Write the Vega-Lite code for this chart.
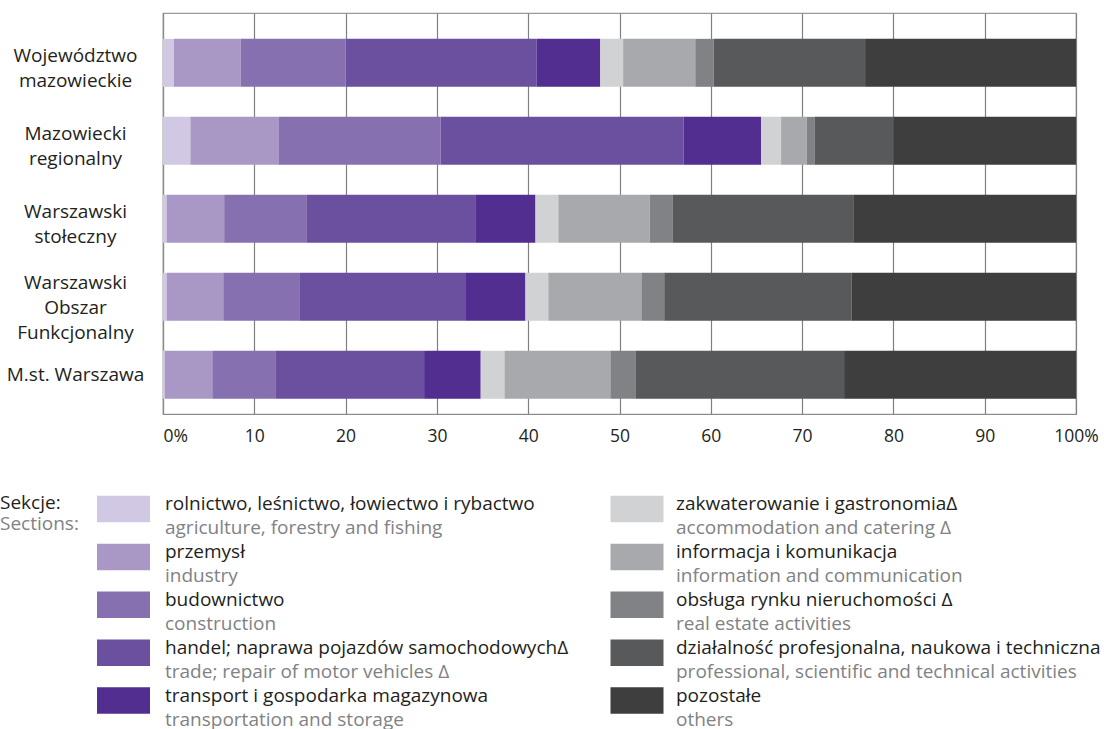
{
  "$schema": "https://vega.github.io/schema/vega-lite/v6.json",
  "padding": {"left": 0, "top": 12, "right": 0, "bottom": 0},
  "background": "white",
  "config": {"font": "Open Sans", "view": {"stroke": null}, "concat": {"spacing": 48}},
  "datasets": {
    "sekcje": [
      {"nr": 1, "pl": "rolnictwo, leśnictwo, łowiectwo i rybactwo", "en": "agriculture, forestry and fishing"},
      {"nr": 2, "pl": "przemysł", "en": "industry"},
      {"nr": 3, "pl": "budownictwo", "en": "construction"},
      {"nr": 4, "pl": "handel; naprawa pojazdów samochodowychΔ", "en": "trade; repair of motor vehicles Δ"},
      {"nr": 5, "pl": "transport i gospodarka magazynowa", "en": "transportation and storage"},
      {"nr": 6, "pl": "zakwaterowanie i gastronomiaΔ", "en": "accommodation and catering Δ"},
      {"nr": 7, "pl": "informacja i komunikacja", "en": "information and communication"},
      {"nr": 8, "pl": "obsługa rynku nieruchomości Δ", "en": "real estate activities"},
      {"nr": 9, "pl": "działalność profesjonalna, naukowa i techniczna", "en": "professional, scientific and technical activities"},
      {"nr": 10, "pl": "pozostałe", "en": "others"}
    ],
    "udzialy": [
      {"region": "Województwo mazowieckie", "nr": 1, "share": 1.2},
      {"region": "Województwo mazowieckie", "nr": 2, "share": 7.3},
      {"region": "Województwo mazowieckie", "nr": 3, "share": 11.5},
      {"region": "Województwo mazowieckie", "nr": 4, "share": 20.9},
      {"region": "Województwo mazowieckie", "nr": 5, "share": 7.0},
      {"region": "Województwo mazowieckie", "nr": 6, "share": 2.5},
      {"region": "Województwo mazowieckie", "nr": 7, "share": 7.9},
      {"region": "Województwo mazowieckie", "nr": 8, "share": 2.0},
      {"region": "Województwo mazowieckie", "nr": 9, "share": 16.6},
      {"region": "Województwo mazowieckie", "nr": 10, "share": 23.1},
      {"region": "Mazowiecki regionalny", "nr": 1, "share": 3.0},
      {"region": "Mazowiecki regionalny", "nr": 2, "share": 9.7},
      {"region": "Mazowiecki regionalny", "nr": 3, "share": 17.7},
      {"region": "Mazowiecki regionalny", "nr": 4, "share": 26.6},
      {"region": "Mazowiecki regionalny", "nr": 5, "share": 8.5},
      {"region": "Mazowiecki regionalny", "nr": 6, "share": 2.2},
      {"region": "Mazowiecki regionalny", "nr": 7, "share": 2.8},
      {"region": "Mazowiecki regionalny", "nr": 8, "share": 0.9},
      {"region": "Mazowiecki regionalny", "nr": 9, "share": 8.6},
      {"region": "Mazowiecki regionalny", "nr": 10, "share": 20.0},
      {"region": "Warszawski stołeczny", "nr": 1, "share": 0.4},
      {"region": "Warszawski stołeczny", "nr": 2, "share": 6.3},
      {"region": "Warszawski stołeczny", "nr": 3, "share": 9.0},
      {"region": "Warszawski stołeczny", "nr": 4, "share": 18.5},
      {"region": "Warszawski stołeczny", "nr": 5, "share": 6.6},
      {"region": "Warszawski stołeczny", "nr": 6, "share": 2.5},
      {"region": "Warszawski stołeczny", "nr": 7, "share": 10.0},
      {"region": "Warszawski stołeczny", "nr": 8, "share": 2.5},
      {"region": "Warszawski stołeczny", "nr": 9, "share": 19.8},
      {"region": "Warszawski stołeczny", "nr": 10, "share": 24.4},
      {"region": "Warszawski Obszar Funkcjonalny", "nr": 1, "share": 0.4},
      {"region": "Warszawski Obszar Funkcjonalny", "nr": 2, "share": 6.2},
      {"region": "Warszawski Obszar Funkcjonalny", "nr": 3, "share": 8.4},
      {"region": "Warszawski Obszar Funkcjonalny", "nr": 4, "share": 18.1},
      {"region": "Warszawski Obszar Funkcjonalny", "nr": 5, "share": 6.6},
      {"region": "Warszawski Obszar Funkcjonalny", "nr": 6, "share": 2.5},
      {"region": "Warszawski Obszar Funkcjonalny", "nr": 7, "share": 10.2},
      {"region": "Warszawski Obszar Funkcjonalny", "nr": 8, "share": 2.5},
      {"region": "Warszawski Obszar Funkcjonalny", "nr": 9, "share": 20.5},
      {"region": "Warszawski Obszar Funkcjonalny", "nr": 10, "share": 24.6},
      {"region": "M.st. Warszawa", "nr": 1, "share": 0.2},
      {"region": "M.st. Warszawa", "nr": 2, "share": 5.2},
      {"region": "M.st. Warszawa", "nr": 3, "share": 6.9},
      {"region": "M.st. Warszawa", "nr": 4, "share": 16.3},
      {"region": "M.st. Warszawa", "nr": 5, "share": 6.2},
      {"region": "M.st. Warszawa", "nr": 6, "share": 2.6},
      {"region": "M.st. Warszawa", "nr": 7, "share": 11.6},
      {"region": "M.st. Warszawa", "nr": 8, "share": 2.8},
      {"region": "M.st. Warszawa", "nr": 9, "share": 22.8},
      {"region": "M.st. Warszawa", "nr": 10, "share": 25.4}
    ],
    "naglowek": [{"pl": "Sekcje:", "en": "Sections:"}]
  },
  "vconcat": [
    {
      "width": 913,
      "height": 401,
      "view": {"stroke": "#9a9a9a", "strokeWidth": 1.2},
      "data": {"name": "udzialy"},
      "mark": {"type": "bar"},
      "encoding": {
        "y": {
          "field": "region",
          "type": "nominal",
          "sort": ["Województwo mazowieckie", "Mazowiecki regionalny", "Warszawski stołeczny", "Warszawski Obszar Funkcjonalny", "M.st. Warszawa"],
          "scale": {"paddingInner": 0.385, "paddingOuter": 0.263, "align": 0.63},
          "axis": {
            "title": null,
            "domainColor": "#8a8a8a",
            "domainWidth": 1.2,
            "ticks": false,
            "labelAlign": "center",
            "labelBaseline": "middle",
            "labelPadding": 88,
            "labelFontSize": 19,
            "labelColor": "#231f20",
            "labelLineHeight": 25,
            "labelLimit": 300,
            "labelExpr": "datum.value == 'M.st. Warszawa' ? datum.value : split(datum.value, ' ')",
            "labelOffset": {
              "condition": [
                {"test": "datum.value == 'M.st. Warszawa'", "value": 0},
                {"test": "datum.value == 'Warszawski Obszar Funkcjonalny'", "value": -14}
              ],
              "value": -7
            }
          }
        },
        "x": {
          "field": "share",
          "type": "quantitative",
          "stack": "zero",
          "scale": {"domain": [0, 100], "nice": false},
          "axis": {
            "title": null,
            "values": [0, 10, 20, 30, 40, 50, 60, 70, 80, 90, 100],
            "grid": true,
            "gridColor": "#808080",
            "gridWidth": 1.2,
            "ticks": false,
            "domainColor": "#8a8a8a",
            "domainWidth": 1.2,
            "labelFontSize": 17.5,
            "labelColor": "#231f20",
            "labelPadding": 13,
            "labelFlush": false,
            "labelExpr": "datum.value == 0 || datum.value == 100 ? datum.value + '%' : datum.value",
            "labelAlign": {"condition": {"test": "datum.value == 0", "value": "left"}, "value": "center"}
          }
        },
        "color": {
          "field": "nr",
          "type": "ordinal",
          "scale": {
            "domain": [1, 2, 3, 4, 5, 6, 7, 8, 9, 10],
            "range": ["#d1c9e3", "#a997c6", "#8670b0", "#6b509f", "#512e90", "#d1d2d4", "#a8a9ad", "#808285", "#58595b", "#3e3e3e"]
          },
          "legend": null
        },
        "order": {"field": "nr", "type": "quantitative"}
      }
    },
    {
      "width": 514,
      "height": 191.5,
      "layer": [
        {
          "data": {"name": "sekcje"},
          "transform": [{"filter": "datum.nr <= 5"}],
          "encoding": {
            "x": {"datum": "L", "type": "nominal", "scale": {"type": "point", "domain": ["L", "R"], "padding": 0}, "axis": null},
            "y": {"field": "nr", "type": "ordinal", "scale": {"type": "point", "domain": [1, 2, 3, 4, 5], "padding": 0}, "axis": null}
          },
          "layer": [
            {
              "mark": {"type": "point", "shape": "M-1,-0.5H1V0.5H-1Z", "size": 2809, "filled": true, "opacity": 1, "strokeWidth": 0, "xOffset": -39.5},
              "encoding": {"color": {"field": "nr", "type": "ordinal", "legend": null}}
            },
            {
              "mark": {"type": "text", "align": "left", "baseline": "middle", "dx": 2, "dy": -5, "fontSize": 19, "color": "#231f20"},
              "encoding": {"text": {"field": "pl"}}
            },
            {
              "mark": {"type": "text", "align": "left", "baseline": "middle", "dx": 2, "dy": 19, "fontSize": 19, "color": "#808285"},
              "encoding": {"text": {"field": "en"}}
            }
          ]
        },
        {
          "data": {"name": "sekcje"},
          "transform": [{"filter": "datum.nr > 5"}],
          "encoding": {
            "x": {"datum": "R", "type": "nominal", "scale": {"type": "point", "domain": ["L", "R"], "padding": 0}, "axis": null},
            "y": {"field": "nr", "type": "ordinal", "scale": {"type": "point", "domain": [6, 7, 8, 9, 10], "padding": 0}, "axis": null}
          },
          "layer": [
            {
              "mark": {"type": "point", "shape": "M-1,-0.5H1V0.5H-1Z", "size": 2809, "filled": true, "opacity": 1, "strokeWidth": 0, "xOffset": -40},
              "encoding": {"color": {"field": "nr", "type": "ordinal", "legend": null}}
            },
            {
              "mark": {"type": "text", "align": "left", "baseline": "middle", "dx": -1, "dy": -5, "fontSize": 19, "color": "#231f20"},
              "encoding": {"text": {"field": "pl"}}
            },
            {
              "mark": {"type": "text", "align": "left", "baseline": "middle", "dx": -1, "dy": 19, "fontSize": 19, "color": "#808285"},
              "encoding": {"text": {"field": "en"}}
            }
          ]
        },
        {
          "data": {"name": "naglowek"},
          "encoding": {
            "x": {"datum": "L", "type": "nominal", "scale": {"type": "point", "domain": ["L", "R"], "padding": 0}, "axis": null},
            "y": {"datum": 1, "type": "ordinal", "scale": {"type": "point", "domain": [1, 2, 3, 4, 5], "padding": 0}, "axis": null}
          },
          "layer": [
            {
              "mark": {"type": "text", "align": "left", "baseline": "middle", "dx": -163, "dy": -6, "fontSize": 19, "color": "#231f20"},
              "encoding": {"text": {"field": "pl"}}
            },
            {
              "mark": {"type": "text", "align": "left", "baseline": "middle", "dx": -163, "dy": 15, "fontSize": 19, "color": "#808285"},
              "encoding": {"text": {"field": "en"}}
            }
          ]
        }
      ],
      "resolve": {"scale": {"y": "independent"}}
    }
  ]
}
